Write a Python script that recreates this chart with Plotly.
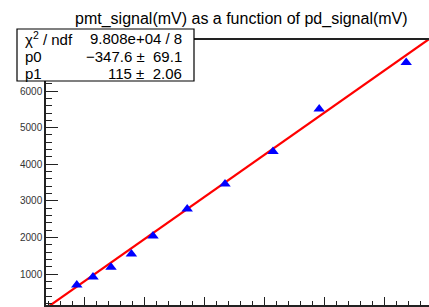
import plotly.graph_objects as go

# ---- data ----
pd_signal = [8.8, 11.5, 14.5, 17.9, 21.5, 27.2, 33.5, 41.5, 49.2, 63.7]
pmt_signal = [710, 930, 1190, 1555, 2045, 2780, 3460, 4350, 5510, 6780]

fit_p0 = -347.6
fit_p0_err = 69.1
fit_p1 = 115.0
fit_p1_err = 2.06
chi2_text = "9.808e+04"
ndf = 8

title_text = "pmt_signal(mV) as a function of pd_signal(mV)"

x_range = [3.667, 67.5]
y_range = [163, 7391]

W, H = 429, 307
ML, MR, MT, MB = 46, 0, 40, 2
PW = W - ML - MR
PH = H - MT - MB


def px(x):
    return (x - ML) / PW


def py(y):
    return (H - MB - y) / PH


fit_x = [x_range[0], x_range[1]]
fit_y = [fit_p0 + fit_p1 * v for v in fit_x]

fig = go.Figure()
fig.add_trace(go.Scatter(x=fit_x, y=fit_y, mode="lines",
                         line=dict(color="#ff0000", width=2.2),
                         showlegend=False, hoverinfo="skip"))
fig.add_trace(go.Scatter(x=pd_signal, y=pmt_signal, mode="markers",
                         marker=dict(symbol="triangle-up", size=10, color="#0000ff",
                                     line=dict(width=0)),
                         showlegend=False))

font = "Liberation Sans, Arial, Helvetica, sans-serif"

fig.update_layout(
    width=W, height=H, template="none",
    margin=dict(l=ML, r=MR, t=MT, b=MB, pad=0, autoexpand=False),
    paper_bgcolor="white", plot_bgcolor="white",
    font=dict(family=font, color="black"),
    xaxis=dict(range=x_range, showgrid=False, zeroline=False, automargin=False,
               showline=True, linecolor="#222", linewidth=1.5, mirror=True,
               ticks="inside", ticklen=8, tickwidth=1.2, tickcolor="#222",
               dtick=10, tick0=0, showticklabels=False,
               minor=dict(ticks="inside", ticklen=4, dtick=2, tickwidth=1, tickcolor="#222")),
    yaxis=dict(range=y_range, showgrid=False, zeroline=False, automargin=False,
               showline=True, linecolor="#222", linewidth=1.5,
               ticks="inside", ticklen=12, tickwidth=1.2, tickcolor="#222",
               dtick=1000, tick0=0, tickformat="d",
               tickfont=dict(size=10, color="#333", family=font),
               minor=dict(ticks="inside", ticklen=6, dtick=200, tickwidth=1, tickcolor="#222")),
)

# stats box
fig.add_shape(type="rect", xref="paper", yref="paper",
              x0=px(17), x1=px(194), y0=py(81), y1=py(29),
              fillcolor="white", line=dict(color="black", width=1.2), layer="above")

rows = [
    ("χ<sup>2</sup> / ndf", f"{chi2_text} / {ndf}", 38),
    ("p0", f"−{abs(fit_p0):.1f} ±\u00a0\u00a0{fit_p0_err}", 56),
    ("p1", f"{fit_p1:.0f} ±\u00a0\u00a0{fit_p1_err}", 73),
]
for lab, val, yc in rows:
    fig.add_annotation(x=px(23), y=py(yc), xref="paper", yref="paper",
                       text=lab, showarrow=False, xanchor="left", yanchor="middle",
                       font=dict(size=15, family=font, color="black"))
    fig.add_annotation(x=px(184), y=py(yc), xref="paper", yref="paper",
                       text=val, showarrow=False, xanchor="right", yanchor="middle",
                       font=dict(size=15, family=font, color="black"))

# title
fig.add_annotation(x=px(241), y=py(19), xref="paper", yref="paper",
                   text=title_text, showarrow=False, xanchor="center", yanchor="middle",
                   font=dict(size=16, family=font, color="black"))

fig.write_html("out.html",
               config={"displayModeBar": False},
               post_script="document.body.style.margin='0';document.body.style.overflow='hidden';")
